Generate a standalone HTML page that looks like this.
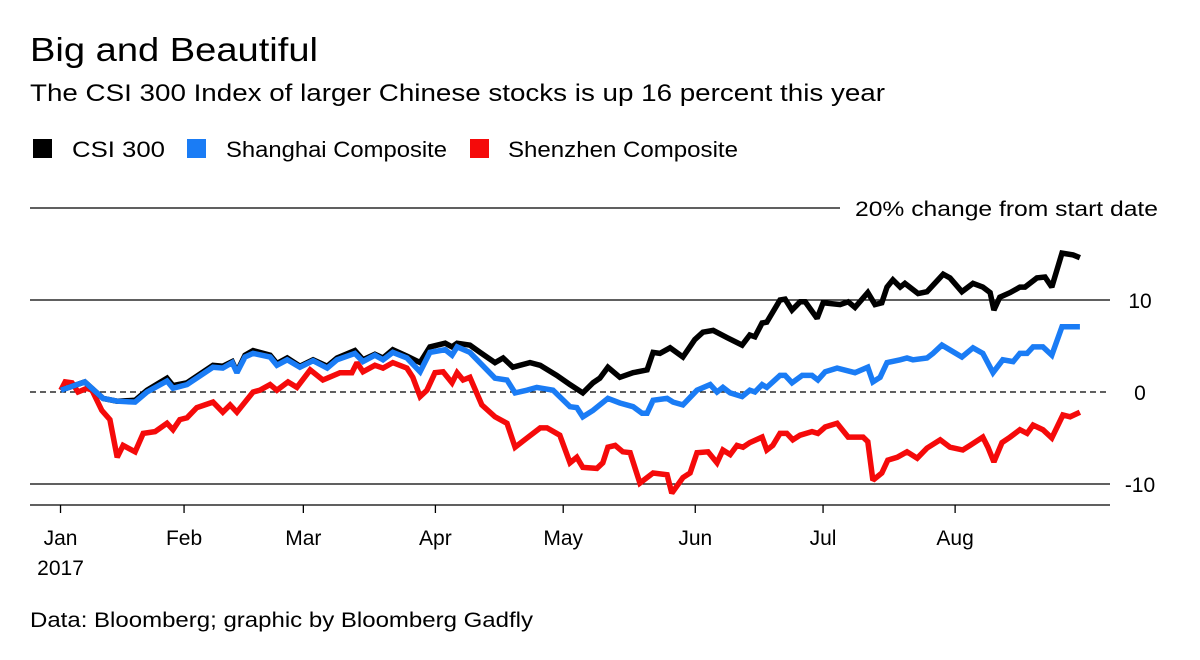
<!DOCTYPE html>
<html><head><meta charset="utf-8"><style>
body{margin:0;background:#fff;font-family:"Liberation Sans",sans-serif;}
svg text{font-family:"Liberation Sans",sans-serif;fill:#000;}
</style></head><body>
<svg id="chart" width="1200" height="655">
<text x="30" y="61" font-size="33" textLength="288" lengthAdjust="spacingAndGlyphs">Big and Beautiful</text>
<text x="30" y="101" font-size="24" textLength="855" lengthAdjust="spacingAndGlyphs">The CSI 300 Index of larger Chinese stocks is up 16 percent this year</text>
<g>
<rect x="33" y="139" width="19" height="19" fill="#000"/>
<text x="72" y="157" font-size="22" textLength="93" lengthAdjust="spacingAndGlyphs">CSI 300</text>
<rect x="187" y="139" width="19" height="19" fill="#1a7cf5"/>
<text x="226" y="157" font-size="22" textLength="221" lengthAdjust="spacingAndGlyphs">Shanghai Composite</text>
<rect x="470" y="139" width="19" height="19" fill="#f50a0a"/>
<text x="508" y="157" font-size="22" textLength="230" lengthAdjust="spacingAndGlyphs">Shenzhen Composite</text>
</g>
<g id="axes"></g>
<g id="series"></g>
<text x="30" y="627" font-size="21" textLength="503" lengthAdjust="spacingAndGlyphs">Data: Bloomberg; graphic by Bloomberg Gadfly</text>
</svg>
<script>
const yTicks=[20,10,0,-10];
const yTickLabels=["20% change from start date","10","0","-10"];
const monthDays=[2,31,59,90,120,151,181,212];
const monthLabels=["Jan","Feb","Mar","Apr","May","Jun","Jul","Aug"];
const csiDays=[2.1,7.7,12.0,15.3,19.5,22.3,27.0,28.4,31.7,37.8,40.1,42.3,43.4,45.3,47.2,51.2,52.8,55.2,58.2,61.3,64.6,66.9,71.1,73.0,75.8,77.7,80.0,83.3,86.4,88.7,92.3,93.9,95.1,98.1,100.5,104.0,105.9,108.2,112.2,114.6,118.5,121.6,124.6,127.0,128.6,130.5,133.3,136.4,139.7,141.1,142.7,145.1,148.1,150.9,152.8,155.2,158.5,162.0,163.8,165.0,166.7,167.8,170.9,172.1,173.7,175.6,176.8,179.6,181.0,185.0,186.9,188.5,191.5,193.2,194.8,196.0,197.4,199.1,200.2,203.3,205.4,209.2,210.8,213.6,216.2,218.5,220.2,221.1,222.5,224.9,227.2,228.4,231.2,233.1,234.7,237.1,239.7,241.3];
const csiValues=[0.2,1.1,-0.7,-1.0,-0.9,0.2,1.5,0.7,1.0,2.9,2.8,3.3,2.2,4.0,4.5,4.0,3.1,3.7,2.8,3.5,2.8,3.7,4.5,3.5,4.1,3.7,4.6,3.9,3.2,4.9,5.3,4.9,5.3,5.1,4.3,3.2,3.7,2.7,3.2,2.9,1.8,0.8,-0.1,1.0,1.5,2.7,1.6,2.1,2.4,4.3,4.2,4.8,3.8,5.7,6.5,6.7,5.9,5.1,6.2,6.0,7.5,7.6,10.0,10.1,8.9,9.8,9.8,8.0,9.7,9.5,9.8,9.2,10.8,9.5,9.7,11.4,12.2,11.4,11.8,10.7,10.9,12.8,12.4,10.9,11.8,11.4,10.8,8.9,10.3,10.8,11.4,11.4,12.4,12.5,11.4,15.1,14.9,14.6];
const shDays=[2.1,7.7,12.0,15.3,19.5,22.3,27.0,28.4,31.7,37.8,40.1,42.3,43.4,45.3,47.2,51.2,52.8,55.2,58.2,61.3,64.6,66.9,71.1,73.0,75.8,77.7,80.0,83.3,86.4,88.7,92.3,93.9,95.1,98.1,104.0,106.8,108.7,111.5,113.8,117.6,121.6,123.2,124.6,127.0,130.5,133.3,136.4,138.5,139.7,141.1,144.4,145.8,148.1,151.4,154.5,156.1,157.5,159.2,162.0,163.8,165.0,166.7,167.8,170.9,172.1,173.7,176.1,178.4,179.8,181.5,184.3,188.5,191.5,192.7,194.4,196.0,199.1,200.7,202.1,205.4,206.8,208.9,213.6,216.2,218.5,220.9,223.2,225.6,227.2,228.9,230.3,232.6,234.7,237.1,241.3];
const shValues=[0.2,1.1,-0.7,-1.0,-1.1,0,1.2,0.4,0.8,2.7,2.6,3.2,2.1,3.8,4.2,3.8,2.9,3.5,2.7,3.4,2.6,3.5,4.2,3.3,4.0,3.5,4.3,3.7,2.2,4.3,4.6,4.0,4.9,4.3,1.5,1.3,-0.1,0.2,0.5,0.2,-1.6,-1.7,-2.7,-2.0,-0.7,-1.2,-1.6,-2.3,-2.3,-0.9,-0.7,-1.1,-1.4,0.2,0.8,0,0.5,-0.1,-0.5,0.2,0,0.8,0.5,1.8,1.8,1.0,1.8,1.8,1.3,2.2,2.6,2.1,2.7,1.1,1.6,3.2,3.5,3.7,3.5,3.7,4.2,5.1,3.8,4.8,4.2,2.1,3.5,3.3,4.2,4.2,4.9,4.9,4.0,7.1,7.1];
const szDays=[2.1,3.1,4.7,6.1,8.2,9.4,11.7,13.6,15.3,16.7,19.5,21.4,24.2,27.0,28.4,30.0,31.7,34.0,37.8,40.1,41.8,43.4,47.2,48.8,51.2,52.8,55.4,57.5,60.6,63.6,67.6,70.4,71.6,73.0,75.8,77.7,80.0,83.3,84.7,86.4,88.0,89.9,91.8,93.9,95.1,96.5,98.1,100.9,104.0,106.8,108.7,111.5,114.6,116.2,119.2,121.6,123.2,124.6,127.9,129.3,130.5,132.2,134.0,135.7,138.0,141.1,144.4,145.5,148.1,149.8,151.4,154.0,156.1,157.5,159.2,160.8,162.2,163.8,166.7,167.8,169.2,170.9,172.5,173.9,175.6,178.4,179.8,181.5,184.3,186.9,190.4,191.5,192.7,194.8,196.2,198.4,200.7,203.1,205.4,208.5,210.8,213.8,215.5,218.5,219.7,221.1,223.0,224.9,227.2,228.9,230.3,232.6,234.7,237.3,239.0,241.3];
const szValues=[0.2,1.1,1.0,0,0.4,0.2,-2.0,-3.0,-7.1,-5.8,-6.5,-4.5,-4.3,-3.4,-4.1,-3.0,-2.8,-1.7,-1.1,-2.2,-1.4,-2.2,0,0.2,0.8,0.2,1.1,0.5,2.4,1.3,2.1,2.1,3.2,2.2,2.9,2.6,3.2,2.6,1.6,-0.5,0.2,2.1,2.2,1.0,2.1,1.3,1.6,-1.4,-2.7,-3.4,-6.0,-5.0,-3.9,-3.9,-4.7,-7.7,-7.1,-8.2,-8.3,-7.7,-6.0,-5.8,-6.5,-6.6,-9.9,-8.8,-9.0,-11.0,-9.3,-8.8,-6.6,-6.5,-7.7,-6.3,-6.8,-5.8,-6.0,-5.5,-4.9,-6.3,-5.8,-4.5,-4.5,-5.2,-4.7,-4.3,-4.5,-3.8,-3.4,-4.9,-4.9,-5.4,-9.6,-8.8,-7.4,-7.1,-6.5,-7.2,-6.1,-5.2,-6.0,-6.3,-5.8,-4.9,-6.0,-7.6,-5.5,-4.9,-4.1,-4.5,-3.6,-4.1,-5.0,-2.5,-2.7,-2.2];

const NS="http://www.w3.org/2000/svg";
function xScale(d){return 52+4.26*d;}
function yScale(v){return 392-9.2*v;}
const axes=document.getElementById('axes');
function mk(tag,attrs,parent){const e=document.createElementNS(NS,tag);for(const k in attrs)e.setAttribute(k,attrs[k]);parent.appendChild(e);return e;}
yTicks.forEach((t,i)=>{
  const y=yScale(t);
  if(t===0){
    const l=mk('line',{x1:30,x2:1110,y1:y,y2:y,stroke:'#000','stroke-width':1.3,'stroke-dasharray':'6,4'},axes);
    
    
  } else {
    const l=mk('line',{x1:30,x2:t===20?840:1110,y1:y,y2:y,stroke:'#000','stroke-width':1.3},axes);
    
    
  }
  let tx;
  if(t===20){
    tx=mk('text',{x:855,y:y+8,'font-size':21,textLength:303,lengthAdjust:'spacingAndGlyphs'},axes);
  } else {
    tx=mk('text',{x:1140,y:y+8,'font-size':21,'text-anchor':'middle'},axes);
  }
  tx.textContent=yTickLabels[i];
  
  
});
const ax=mk('line',{x1:30,x2:1110,y1:505,y2:505,stroke:'#000','stroke-width':1.3},axes);


monthDays.forEach((d,i)=>{
  const x=xScale(d);
  const tk=mk('line',{x1:x,x2:x,y1:505,y2:513,stroke:'#000','stroke-width':1.3},axes);
  
  
  const tx=mk('text',{x:x,y:545,'font-size':21,'text-anchor':'middle'},axes);
  tx.textContent=monthLabels[i];
  
  
});
const yr=mk('text',{x:xScale(monthDays[0]),y:575,'font-size':21,'text-anchor':'middle'},axes);
yr.textContent='2017';



const series=document.getElementById('series');
function drawLine(days,vals,color,name){
  const d=days.map((dd,i)=>(i?'L':'M')+xScale(dd).toFixed(1)+','+yScale(vals[i]).toFixed(1)).join('');
  const p=mk('path',{d:d,fill:'none',stroke:color,'stroke-width':5.5,'stroke-linejoin':'miter','stroke-miterlimit':2},series);
  
  
}
drawLine(szDays,szValues,'#f50a0a','shenzhen-line');
drawLine(csiDays,csiValues,'#000','csi300-line');
drawLine(shDays,shValues,'#1a7cf5','shanghai-line');
</script>
</body></html>
